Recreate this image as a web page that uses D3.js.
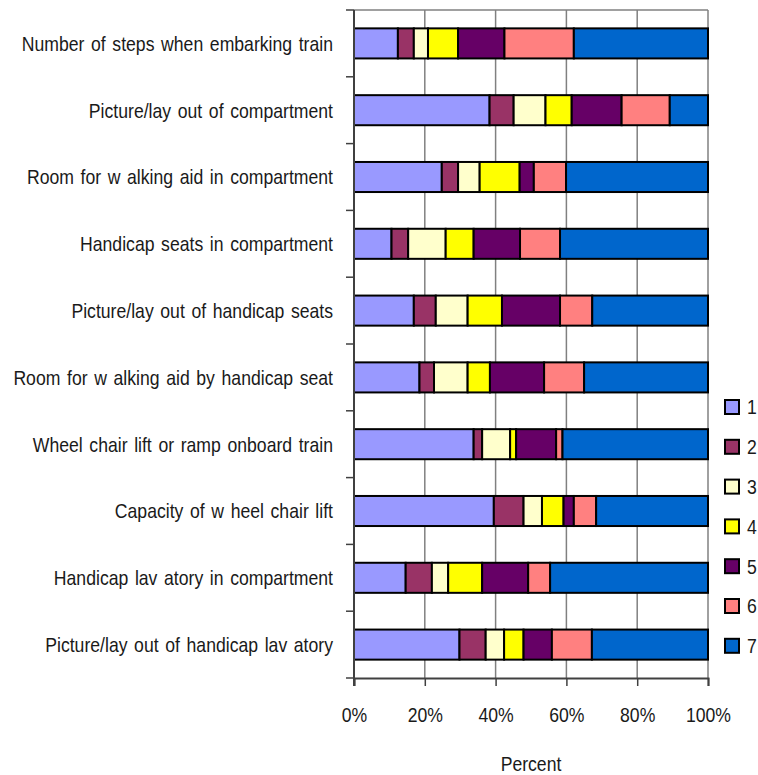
<!DOCTYPE html>
<html><head><meta charset="utf-8">
<script src="https://cdn.jsdelivr.net/npm/d3@7"></script>
<style>body{margin:0;background:#fff;} svg{display:block;} text{font-family:"Liberation Sans",Arial,sans-serif;}</style>
</head><body>
<svg id="c" width="758" height="775"></svg>
<script>
const categories = [
  "Number of steps when embarking train",
  "Picture/lay out of compartment",
  "Room for w alking aid in compartment",
  "Handicap seats in compartment",
  "Picture/lay out of handicap seats",
  "Room for w alking aid by handicap seat",
  "Wheel chair lift or ramp onboard train",
  "Capacity of w heel chair lift",
  "Handicap lav atory in compartment",
  "Picture/lay out of handicap lav atory"
];
const seriesNames = ["1","2","3","4","5","6","7"];
const seriesColors = ["#9999FF","#993366","#FFFFCC","#FFFF00","#660066","#FF8080","#0066CC"];
const s1 = [12.4, 38.3, 24.8, 10.6, 16.9, 18.5, 33.8, 39.5, 14.6, 29.8];
const s2 = [4.5, 6.8, 4.6, 4.7, 6.2, 4.1, 2.4, 8.4, 7.4, 7.4];
const s3 = [4.0, 9.0, 6.1, 10.6, 9.0, 9.5, 7.9, 5.2, 4.6, 5.2];
const s4 = [8.5, 7.4, 11.3, 7.9, 9.7, 6.3, 1.7, 6.1, 9.6, 5.5];
const s5 = [13.1, 14.1, 4.0, 13.1, 16.4, 15.3, 11.3, 2.9, 13.0, 8.0];
const s6 = [19.6, 13.6, 9.1, 11.3, 9.1, 11.3, 1.8, 6.3, 6.2, 11.3];
const s7 = [37.9, 10.8, 40.1, 41.8, 32.7, 35.0, 41.1, 31.6, 44.6, 32.8];
const xTicks = [0, 0.2, 0.4, 0.6, 0.8, 1.0];
const xTitle = "Percent";

const series = [s1,s2,s3,s4,s5,s6,s7];
const rows = categories.map((c,i)=>{
  const o = {cat:c};
  seriesNames.forEach((n,j)=>o[n]=series[j][i]);
  return o;
});
const stack = d3.stack().keys(seriesNames).offset(d3.stackOffsetExpand)(rows);

const FS = 20.5, SX = 0.86;
const TXT = "#1a1a1a";
const svg = d3.select("#c");
const L=354, R=708, T=10, B=678;
const x = d3.scaleLinear().domain([0,1]).range([L,R]);
const y = d3.scaleBand().domain(categories).range([T,B]).paddingInner(0.55).paddingOuter(0.275);

// grid
svg.append("g").selectAll("line").data(xTicks.slice(1)).join("line")
  .attr("x1",d=>x(d)).attr("x2",d=>x(d)).attr("y1",T).attr("y2",B)
  .attr("stroke","#808080").attr("stroke-width",1.5);
svg.append("line").attr("x1",L).attr("x2",R).attr("y1",T).attr("y2",T)
  .attr("stroke","#808080").attr("stroke-width",1.5);

// bars
svg.append("g").selectAll("g").data(stack).join("g")
  .attr("fill",(d,i)=>seriesColors[i])
  .selectAll("rect").data(d=>d).join("rect")
  .attr("x",d=>x(d[0])).attr("width",d=>x(d[1])-x(d[0]))
  .attr("y",d=>y(d.data.cat)).attr("height",y.bandwidth())
  .attr("stroke","#000").attr("stroke-width",2);

// x axis
const xa = svg.append("g").attr("transform",`translate(0,${B})`)
  .call(d3.axisBottom(x).tickValues(xTicks).tickFormat(d3.format(".0%")).tickSize(8).tickPadding(21));
xa.select(".domain").attr("stroke","#404040").attr("stroke-width",2);
xa.selectAll(".tick line").attr("stroke","#404040").attr("stroke-width",1.5);
xa.selectAll("text").attr("font-size",FS).attr("fill",TXT).attr("font-family",null)
  .attr("transform",`scale(${SX},1)`);

// y axis: ticks at band boundaries
const bounds = d3.range(categories.length+1).map(i=>T + i*y.step());
svg.append("g").selectAll("line").data(bounds).join("line")
  .attr("x1",L-8).attr("x2",L).attr("y1",d=>d).attr("y2",d=>d)
  .attr("stroke","#404040").attr("stroke-width",1.5);
svg.append("line").attr("x1",L).attr("x2",L).attr("y1",T).attr("y2",B+8)
  .attr("stroke","#404040").attr("stroke-width",2);
svg.append("g").selectAll("text").data(categories).join("text")
  .attr("transform",d=>`translate(${L-21},${y(d)+y.bandwidth()/2}) scale(${SX},1)`)
  .attr("dy","0.36em")
  .attr("text-anchor","end").attr("font-size",FS).attr("word-spacing",2).attr("fill",TXT).text(d=>d);

svg.append("text").attr("transform",`translate(${(L+R)/2},771) scale(${SX},1)`).attr("text-anchor","middle")
  .attr("font-size",FS).attr("fill",TXT).text(xTitle);

// legend
const lg = svg.append("g").selectAll("g").data(seriesNames).join("g")
  .attr("transform",(d,i)=>`translate(725,${400+i*39.8})`);
lg.append("rect").attr("width",14).attr("height",14)
  .attr("fill",(d,i)=>seriesColors[i]).attr("stroke","#000").attr("stroke-width",2);
lg.append("text").attr("transform",`translate(22,7) scale(${SX},1)`).attr("dy","0.36em")
  .attr("font-size",FS).attr("fill",TXT).text(d=>d);
</script>
</body></html>
